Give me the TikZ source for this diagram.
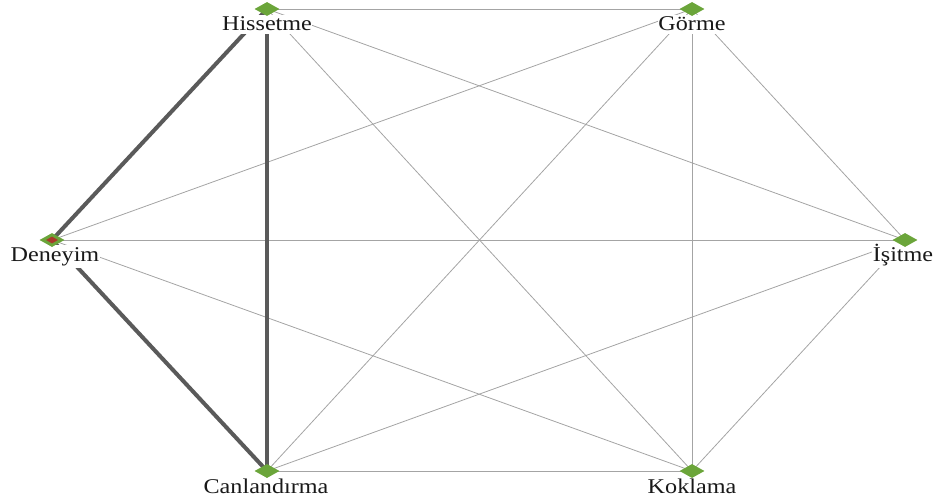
\documentclass[tikz,border=0pt]{standalone}
\usepackage{fontspec}
\setmainfont[FakeStretch=1.15]{Liberation Serif}
\usetikzlibrary{shapes.geometric}
\definecolor{dgreen}{HTML}{6BA53A}
\definecolor{thin}{HTML}{A4A4A4}
\definecolor{thick}{HTML}{5A5A5A}
\definecolor{dred}{HTML}{A83A2A}
\tikzset{
  vert/.style={diamond, fill=dgreen, draw=none, minimum width=25pt, minimum height=14pt, inner sep=0pt},
  lbl/.style={font=\fontsize{21}{24}\selectfont, fill=white, inner xsep=0.5pt, inner ysep=2.5pt, anchor=base, text=black!90},
  thinedge/.style={draw=thin, line width=0.8pt},
  thickedge/.style={draw=thick, line width=4pt},
}
\begin{document}
\begin{tikzpicture}[x=1pt,y=-1pt]
\useasboundingbox (0,0) rectangle (933,497);
% vertex positions
\coordinate (H) at (267,9);
\coordinate (G) at (692,9);
\coordinate (D) at (52,240);
\coordinate (I) at (905,240);
\coordinate (C) at (267,471);
\coordinate (K) at (692,471);
% thin edges
\draw[thinedge] (H) -- (G);
\draw[thinedge] (H) -- (I);
\draw[thinedge] (H) -- (K);
\draw[thinedge] (G) -- (D);
\draw[thinedge] (G) -- (I);
\draw[thinedge] (G) -- (C);
\draw[thinedge] (G) -- (K);
\draw[thinedge] (D) -- (I);
\draw[thinedge] (D) -- (K);
\draw[thinedge] (I) -- (C);
\draw[thinedge] (I) -- (K);
\draw[thinedge] (C) -- (K);
% thick edges
\draw[thickedge] (H) -- (D);
\draw[thickedge] (H) -- (C);
\draw[thickedge] (D) -- (C);
% labels
\node[lbl] (Hl) at (267,31) {Hissetme};
\node[lbl] (Gl) at (692,31) {Görme};
\node[lbl] (Dl) at (55,261) {Deneyim};
\node[lbl] (Il) at (903,261) {İşitme};
\node[lbl] (Cl) at (266,493) {Canlandırma};
\node[lbl] (Kl) at (692,493) {Koklama};
% vertices
\node[vert] (Hn) at (H) {};
\node[vert] (Gn) at (G) {};
\node[vert] (Dn) at (D) {};
\node[diamond, fill=dred, minimum width=12pt, minimum height=7pt, inner sep=0pt] (Dr) at (D) {};
\node[vert] (In) at (I) {};
\node[vert] (Cn) at (C) {};
\node[vert] (Kn) at (K) {};
\end{tikzpicture}
\end{document}
